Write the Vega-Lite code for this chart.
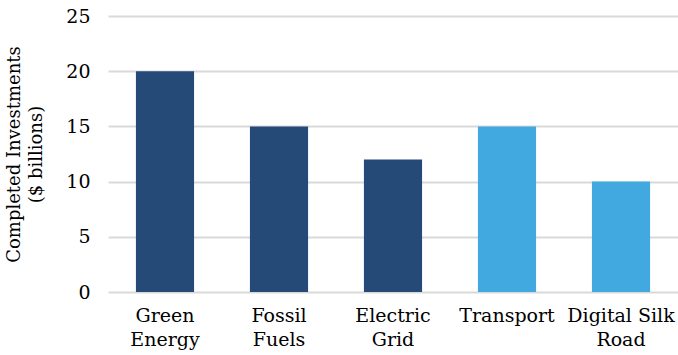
{
  "$schema": "https://vega.github.io/schema/vega-lite/v6.json",
  "autosize": {"type": "none"},
  "width": 570,
  "height": 276,
  "padding": {"left": 108, "top": 16, "right": 0, "bottom": 63},
  "background": "white",
  "data": {"values": [
    {"sector": "Green Energy", "value": 20, "group": "Energy"},
    {"sector": "Fossil Fuels", "value": 15, "group": "Energy"},
    {"sector": "Electric Grid", "value": 12, "group": "Energy"},
    {"sector": "Transport", "value": 15, "group": "Other"},
    {"sector": "Digital Silk Road", "value": 10, "group": "Other"}
  ]},
  "config": {
    "view": {"stroke": null},
    "font": "DejaVu Serif"
  },
  "mark": {"type": "bar"},
  "encoding": {
    "x": {
      "field": "sector", "type": "nominal", "sort": null,
      "scale": {"paddingInner": 0.49, "paddingOuter": 0.245},
      "axis": {
        "title": null, "labelAngle": 0, "domain": false, "ticks": false,
        "labelFontSize": 19, "labelColor": "#000000", "labelPadding": 14,
        "labelLineHeight": 24, "labelBaseline": "top",
        "labelExpr": "datum.label == 'Digital Silk Road' ? ['Digital Silk', 'Road'] : split(datum.label, ' ')"
      }
    },
    "y": {
      "field": "value", "type": "quantitative",
      "scale": {"domain": [0, 25]},
      "axis": {
        "values": [0, 5, 10, 15, 20, 25],
        "title": ["Completed Investments", "($ billions)"],
        "titleFontSize": 18, "titleFontWeight": "normal", "titleColor": "#000000",
        "titleLineHeight": 22, "titlePadding": 20,
        "domain": false, "ticks": false,
        "labelFontSize": 19, "labelColor": "#000000", "labelPadding": 18,
        "gridColor": "#d9d9d9", "gridWidth": 2
      }
    },
    "color": {
      "field": "group", "type": "nominal",
      "scale": {"domain": ["Energy", "Other"], "range": ["#254a78", "#41a8e0"]},
      "legend": null
    }
  }
}
